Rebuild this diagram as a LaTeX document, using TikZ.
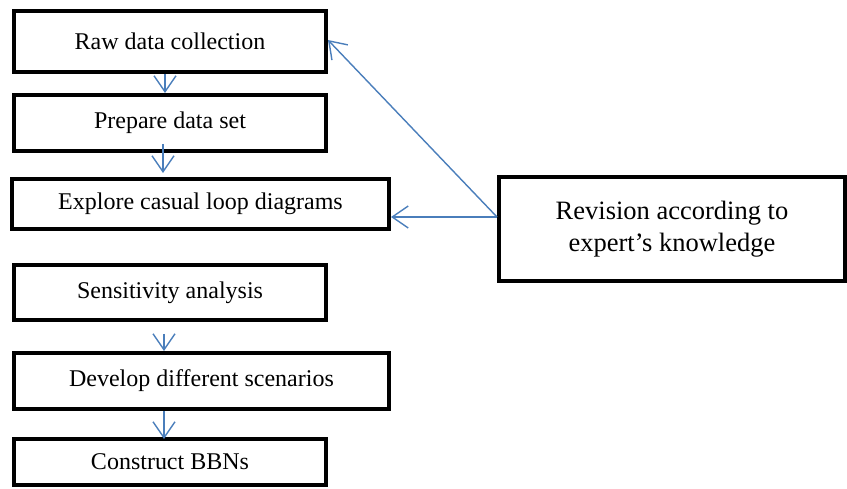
\documentclass[tikz,border=0pt]{standalone}
\usepackage{fontspec}
\setmainfont{Liberation Serif}
\usetikzlibrary{arrows.meta}
\definecolor{flowblue}{HTML}{4A7EBB}
\tikzset{
  stepbox/.style={draw=black, line width=4pt, fill=white, inner sep=0pt,
    font=\fontsize{24}{28}\selectfont, align=center},
  flow/.style={draw=flowblue, line width=1.4pt,
    -{Straight Barb[length=16pt,width=22pt,line width=1.4pt]}},
}
\begin{document}
\begin{tikzpicture}[x=1pt,y=-1pt]
  \useasboundingbox (0,0) rectangle (847,489);
  % left-hand chain of steps
  \node[stepbox, minimum width=312pt, minimum height=61pt] (raw)  at (170,41.5) {Raw data collection};
  \node[stepbox, minimum width=312pt, minimum height=56pt] (prep) at (170,123)  {Prepare data set};
  \node[stepbox, minimum width=377pt, minimum height=50pt] (expl) at (200.5,204) {Explore casual loop diagrams};
  \node[stepbox, minimum width=312pt, minimum height=55pt] (sens) at (170,292.5) {Sensitivity analysis};
  \node[stepbox, minimum width=375pt, minimum height=56pt] (dev)  at (201.5,381) {Develop different scenarios};
  \node[stepbox, minimum width=312pt, minimum height=46pt] (bbn)  at (170,462)  {Construct BBNs};
  % revision box on the right
  \node[stepbox, minimum width=346pt, minimum height=104pt,
        font=\fontsize{26.5}{32}\selectfont] (rev) at (672,229)
        {Revision according to\\expert’s knowledge};
  % connector end points
  \coordinate (revout) at ([yshift=12pt]rev.west);
  \coordinate (p0) at ([xshift=-7pt,yshift=9pt]prep.south);
  \coordinate (p1) at ([xshift=-7pt,yshift=4pt]expl.north -| prep.south);
  \coordinate (s0) at ([xshift=-6pt,yshift=-12pt]sens.south);
  \coordinate (s1) at ([xshift=-37.5pt]dev.north);
  \coordinate (d0) at ([xshift=-37.5pt]dev.south);
  \coordinate (d1) at ([xshift=-6pt,yshift=-2pt]bbn.north);
  % downward connectors
  \draw[flow] ([xshift=-5pt]raw.south) -- ([xshift=-5pt]prep.north);
  \draw[flow] (p0) -- (p1);
  \draw[flow] (s0) -- (s1);
  \draw[flow] (d0) -- (d1);
  % feedback connectors from the revision box
  \draw[flow] (revout) -- (expl.east |- revout);
  \draw[flow] (revout) -- ([yshift=1.5pt]raw.east);
\end{tikzpicture}
\end{document}
